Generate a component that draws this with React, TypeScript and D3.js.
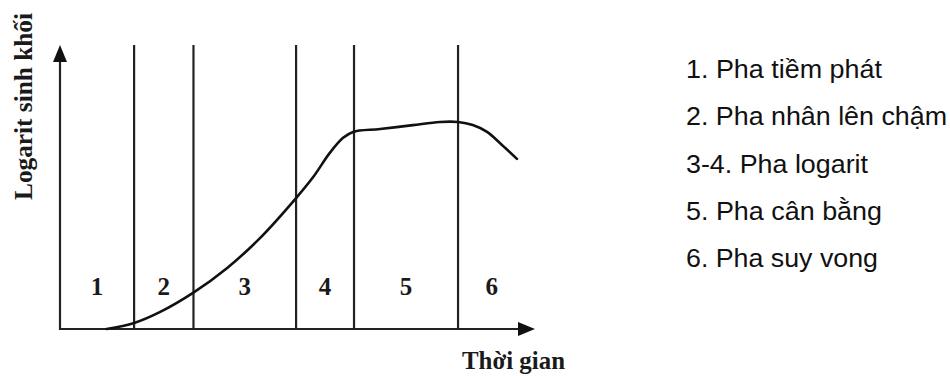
import React, { useRef, useEffect } from 'react';
import * as d3 from 'd3';

// time (0-100) and log biomass (0-100)
const curveTime = [9.8, 15.6, 21.1, 28.0, 35.2, 42.1, 49.7, 53.3, 56.8, 59.6, 61.7, 67.4, 74.3, 80.0, 83.8, 86.9, 89.9, 92.6, 96.2];
const curveLog = [0, 2.1, 6.0, 12.7, 21.5, 32.0, 46.1, 53.5, 62.0, 67.3, 69.4, 70.4, 71.8, 72.9, 72.9, 71.8, 69.4, 65.5, 59.9];

// phase boundaries on the time axis (first and last are the outer edges for label centring)
const phaseEdges = [0, 15.6, 28.1, 49.7, 61.9, 83.8, 98];
const phaseLabels = ['1', '2', '3', '4', '5', '6'];

const legendItems = ['1. Pha tiềm phát', '2. Pha nhân lên chậm', '3-4. Pha logarit', '5. Pha cân bằng', '6. Pha suy vong'];
const legendWidths = [196, 261, 182, 196, 192];

const yTitle = 'Logarit sinh khối';
const xTitle = 'Thời gian';

const W = 950;
const H = 376;

const App = () => {
  const svgRef = useRef<SVGSVGElement>(null);

  useEffect(() => {
    const svg = d3.select(svgRef.current);
    svg.selectAll('*').remove();

    const x = d3.scaleLinear().domain([0, 100]).range([60, 535]);
    const y = d3.scaleLinear().domain([0, 100]).range([329, 45]);
    const ink = '#222';
    const serif = '"Liberation Serif", "Times New Roman", serif';

    // axes with arrowheads
    svg.append('line')
      .attr('x1', x(0)).attr('x2', x(0))
      .attr('y1', y(0) + 1).attr('y2', y(100) + 14)
      .attr('stroke', ink).attr('stroke-width', 2.2);
    svg.append('path')
      .attr('d', `M${x(0)},${y(100)} L${x(0) - 7},${y(100) + 17} L${x(0) + 7},${y(100) + 17} Z`)
      .attr('fill', '#111');

    svg.append('line')
      .attr('x1', x(0) - 1).attr('x2', x(100) - 14)
      .attr('y1', y(0)).attr('y2', y(0))
      .attr('stroke', ink).attr('stroke-width', 2.2);
    svg.append('path')
      .attr('d', `M${x(100)},${y(0)} L${x(100) - 17},${y(0) - 7} L${x(100) - 17},${y(0) + 7} Z`)
      .attr('fill', '#111');

    // phase dividers
    svg.selectAll('.divider')
      .data(phaseEdges.slice(1, -1))
      .join('line')
      .attr('class', 'divider')
      .attr('x1', d => x(d)).attr('x2', d => x(d))
      .attr('y1', y(100)).attr('y2', y(0))
      .attr('stroke', ink).attr('stroke-width', 2.2);

    // phase numbers
    svg.selectAll('.phase')
      .data(phaseLabels)
      .join('text')
      .attr('class', 'phase')
      .attr('x', (_, i) => x((phaseEdges[i] + phaseEdges[i + 1]) / 2))
      .attr('y', 295)
      .attr('text-anchor', 'middle')
      .style('font-family', serif)
      .style('font-weight', 'bold')
      .style('font-size', '25px')
      .style('fill', '#1a1a1a')
      .text(d => d);

    // growth curve
    const pts = curveTime.map((t, i) => [t, curveLog[i]] as [number, number]);
    const line = d3.line<[number, number]>()
      .x(d => x(d[0]))
      .y(d => y(d[1]))
      .curve(d3.curveCatmullRom.alpha(0.5));
    svg.append('path')
      .attr('d', line(pts))
      .attr('fill', 'none')
      .attr('stroke', '#111')
      .attr('stroke-width', 2.6)
      .attr('stroke-linecap', 'round');

    // axis titles
    svg.append('text')
      .attr('transform', 'translate(32,200) rotate(-90)')
      .attr('textLength', 187)
      .attr('lengthAdjust', 'spacingAndGlyphs')
      .style('font-family', serif)
      .style('font-weight', 'bold')
      .style('font-size', '25px')
      .style('fill', '#1a1a1a')
      .text(yTitle);

    svg.append('text')
      .attr('x', 462).attr('y', 369)
      .attr('textLength', 103)
      .attr('lengthAdjust', 'spacingAndGlyphs')
      .style('font-family', serif)
      .style('font-weight', 'bold')
      .style('font-size', '25px')
      .style('fill', '#1a1a1a')
      .text(xTitle);

    // legend
    svg.selectAll('.legend')
      .data(legendItems)
      .join('text')
      .attr('class', 'legend')
      .attr('x', 686)
      .attr('y', (_, i) => 78 + i * 47.3)
      .attr('textLength', (_, i) => legendWidths[i])
      .attr('lengthAdjust', 'spacingAndGlyphs')
      .style('font-family', '"Liberation Sans", Arial, sans-serif')
      .style('font-size', '26px')
      .style('fill', '#111')
      .text(d => d);
  }, []);

  return (
    <div style={{ position: 'absolute', left: 0, top: 0, width: W, height: H, background: '#fff' }}>
      <svg ref={svgRef} width={W} height={H} style={{ display: 'block' }}></svg>
    </div>
  );
};

export default App;
